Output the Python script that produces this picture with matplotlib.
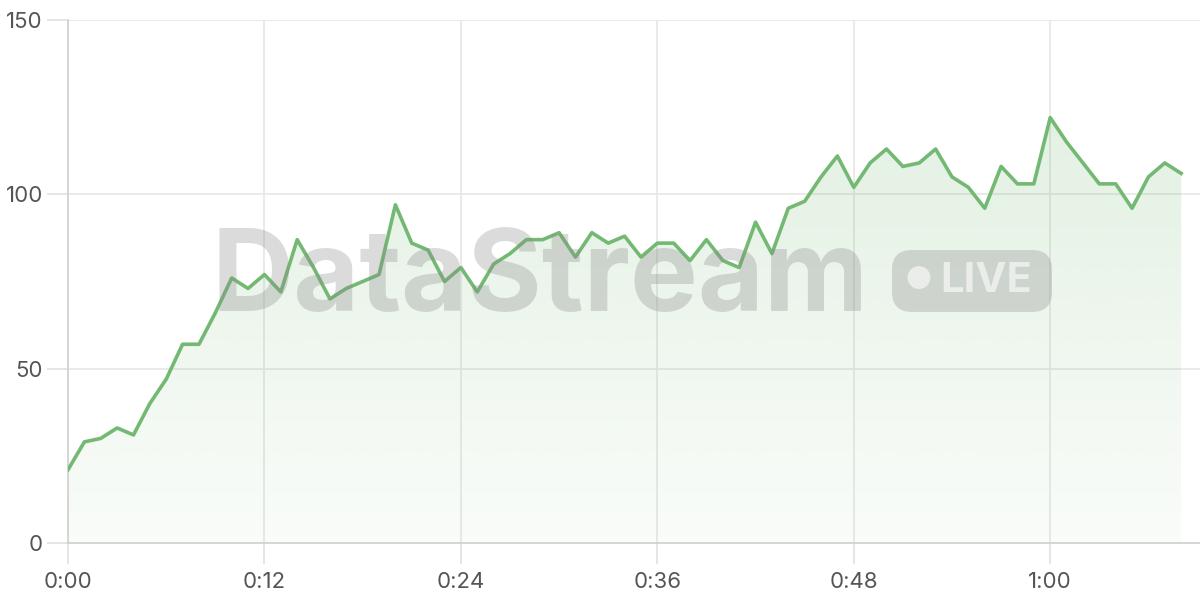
import numpy as np
import matplotlib.pyplot as plt
from matplotlib.patches import FancyBboxPatch

plt.rcParams['font.family'] = ['Inter', 'DejaVu Sans']

# minuti trascorsi e valori della serie
minutes = list(range(69))
values = [21, 29, 30, 33, 31, 40, 47, 57, 57, 66,
          76, 73, 77, 72, 87, 79, 70, 73, 75, 77,
          97, 86, 84, 75, 79, 72, 80, 83, 87, 87,
          89, 82, 89, 86, 88, 82, 86, 86, 81, 87,
          81, 79, 92, 83, 96, 98, 105, 111, 102, 109,
          113, 108, 109, 113, 105, 102, 96, 108, 103, 103,
          122, 115, 109, 103, 103, 96, 105, 109, 106]
xticks = [0, 12, 24, 36, 48, 60]
xlabels = ['0:00', '0:12', '0:24', '0:36', '0:48', '1:00']
yticks = [0, 50, 100, 150]

line_col = '#74b973'

fig = plt.figure(figsize=(12, 6), dpi=100)
ax = fig.add_axes([68/1200, 57/600, 1 - 68/1200, (543-20)/600])

x = np.array(minutes)
y = np.array(values)

# riempimento sfumato sotto la linea
poly = ax.fill_between(x, y, 0, color='none', lw=0)
grad = np.linspace(0.04, 0.24, 256).reshape(-1, 1)
rgba = np.zeros((256, 1, 4))
rgba[:, :, 0] = 0x74/255
rgba[:, :, 1] = 0xb9/255
rgba[:, :, 2] = 0x73/255
rgba[:, :, 3] = grad
img = ax.imshow(rgba, extent=[0, 68, 0, 150], origin='lower', aspect='auto', zorder=1)
path = poly.get_paths()[0]
img.set_clip_path(path, transform=ax.transData)

ax.plot(x, y, color=line_col, lw=2.6, zorder=4)

ax.set_xlim(0, 69.15)
ax.set_ylim(0, 150)
ax.set_xticks(xticks)
ax.set_xticklabels(xlabels)
ax.set_yticks(yticks)

ax.grid(True, color='#e6e6e6', lw=1.2, zorder=0)
ax.set_axisbelow(True)
for s in ['top', 'right']:
    ax.spines[s].set_visible(False)
ax.spines['left'].set_color('#d0d0d0')
ax.spines['bottom'].set_color('#d0d0d0')
ax.spines['left'].set_linewidth(1.2)
ax.spines['bottom'].set_linewidth(1.2)
ax.tick_params(axis='both', colors='#e0e0e0', labelcolor='#555555', labelsize=16, length=15, width=1.2)
ax.tick_params(axis='x', pad=6)
ax.tick_params(axis='y', pad=3)

# filigrana
fig.text(540/1200, 1 - 281/600, 'DataStream', fontsize=82, fontweight='bold',
         color='#888888', alpha=0.3, ha='center', va='center', zorder=10)
pill = FancyBboxPatch((8.92, 2.88), 1.60, 0.62,
                      boxstyle='round,pad=0,rounding_size=0.2',
                      transform=fig.dpi_scale_trans, facecolor='#888888', alpha=0.3,
                      edgecolor='none', zorder=10)
fig.patches.append(pill)
fig.text(918/1200, 1 - 281/600, '\u25cf', fontsize=22, color='white', alpha=0.6,
         ha='center', va='center', zorder=11)
fig.text(986/1200, 1 - 281/600, 'LIVE', fontsize=30, fontweight='bold', color='white',
         alpha=0.6, ha='center', va='center', zorder=11)

fig.savefig('out.png', dpi=100)
